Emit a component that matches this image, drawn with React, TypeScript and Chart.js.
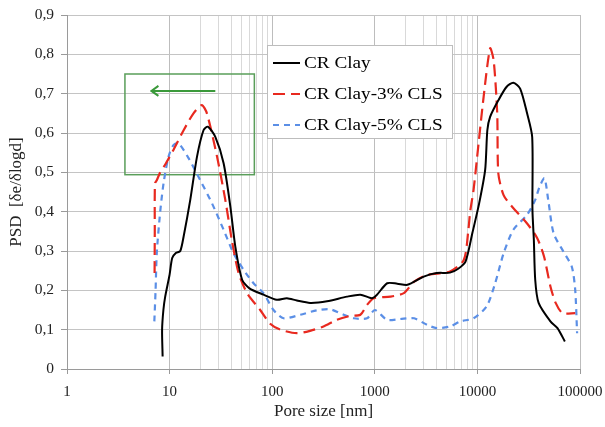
import React, { useEffect, useRef } from 'react';
import { Chart, registerables } from 'chart.js';

Chart.register(...registerables);

const FONT = "'Liberation Serif', 'Times New Roman', serif";

const seriesNames = ['CR Clay', 'CR Clay-3% CLS', 'CR Clay-5% CLS'];

const clayX = [8.55, 8.45, 8.7, 9.06, 10.0, 10.6, 11.5, 12.7, 13.7, 15.9, 18.5, 21.4, 23.6, 27.9, 33.6, 39.1, 43.7, 50.9, 60, 82.2, 111, 139, 174, 234, 342, 536, 724, 935, 1050, 1320, 1655, 2080, 3000, 4000, 5400, 6500, 7660, 8920, 10400, 11900, 12500, 13300, 16000, 19200, 22400, 26100, 30500, 34200, 34400, 35500, 36600, 39500, 51500, 60300, 71200];
const clayY = [0.032, 0.1, 0.15, 0.184, 0.24, 0.282, 0.295, 0.3, 0.337, 0.43, 0.54, 0.607, 0.616, 0.59, 0.523, 0.413, 0.311, 0.227, 0.205, 0.189, 0.176, 0.18, 0.174, 0.168, 0.172, 0.184, 0.189, 0.18, 0.189, 0.218, 0.217, 0.214, 0.235, 0.244, 0.245, 0.255, 0.273, 0.345, 0.421, 0.506, 0.607, 0.641, 0.683, 0.717, 0.728, 0.713, 0.65, 0.59, 0.404, 0.328, 0.227, 0.168, 0.121, 0.104, 0.07];

const cls3X = [7.14, 7.17, 7.2, 7.5, 8.1, 9.07, 10.9, 13.7, 17.1, 20.6, 23.1, 29, 34.9, 40.4, 47, 56.9, 76.4, 95.6, 120, 174, 234, 316, 425, 573, 724, 840, 977, 1420, 1920, 2420, 3250, 5400, 7370, 8170, 8500, 9170, 9950, 11500, 13300, 14400, 15600, 16000, 18000, 21700, 30500, 38200, 44600, 51500, 57900, 67500, 89800];
const cls3Y = [0.244, 0.35, 0.472, 0.48, 0.5, 0.52, 0.557, 0.607, 0.65, 0.671, 0.65, 0.54, 0.43, 0.328, 0.244, 0.193, 0.15, 0.115, 0.1, 0.091, 0.097, 0.108, 0.125, 0.135, 0.138, 0.163, 0.18, 0.184, 0.193, 0.222, 0.239, 0.248, 0.277, 0.354, 0.4, 0.455, 0.54, 0.692, 0.815, 0.785, 0.65, 0.497, 0.442, 0.413, 0.37, 0.333, 0.286, 0.21, 0.168, 0.142, 0.142];

const cls5X = [7.1, 7.3, 7.5, 8.1, 8.76, 9.77, 10.9, 12.2, 15.3, 19.9, 25.9, 33.6, 42, 52.7, 65.8, 82.2, 103, 129, 188, 271, 366, 497, 622, 840, 1000, 1320, 1750, 2420, 3250, 4000, 5400, 6830, 9170, 12300, 14900, 18000, 22400, 30500, 36600, 40300, 45000, 49000, 55300, 69100, 83200, 89800, 93700];
const cls5Y = [0.121, 0.2, 0.295, 0.4, 0.475, 0.54, 0.569, 0.574, 0.536, 0.48, 0.421, 0.354, 0.294, 0.252, 0.218, 0.193, 0.15, 0.129, 0.138, 0.149, 0.152, 0.138, 0.129, 0.129, 0.15, 0.125, 0.127, 0.129, 0.112, 0.104, 0.108, 0.121, 0.129, 0.159, 0.218, 0.294, 0.354, 0.392, 0.43, 0.463, 0.485, 0.43, 0.345, 0.298, 0.26, 0.201, 0.091];

const xMajorTicks = [1, 10, 100, 1000, 10000, 100000];
const xMinorTicks = [20, 30, 40, 50, 60, 70, 80, 90, 2000, 3000, 4000, 5000, 6000, 7000, 8000, 9000];
const yTicks = [0, 0.1, 0.2, 0.3, 0.4, 0.5, 0.6, 0.7, 0.8, 0.9];

const zoomBox = { xMin: 3.67, xMax: 67, yMin: 0.494, yMax: 0.75 };
const arrowLine = { xFrom: 27.9, xTo: 6.65, y: 0.707 };

const colors = ['#000000', '#e8291f', '#5b8fe6'];
const dashes = [[], [12, 6], [6, 5]];
const widths = [2, 2.2, 2.2];

const toPoints = (xs: number[], ys: number[]) => xs.map((x, i) => ({ x, y: ys[i] }));

const annotationPlugin = {
  id: 'zoomAnnotation',
  beforeDatasetsDraw(chart: any) {
    const { ctx, scales } = chart;
    const xs = scales.x, ys = scales.y;
    ctx.save();
    ctx.strokeStyle = '#5a9e5a';
    ctx.lineWidth = 1.5;
    const x1 = xs.getPixelForValue(zoomBox.xMin), x2 = xs.getPixelForValue(zoomBox.xMax);
    const y1 = ys.getPixelForValue(zoomBox.yMax), y2 = ys.getPixelForValue(zoomBox.yMin);
    ctx.strokeRect(x1, y1, x2 - x1, y2 - y1);
    const ax1 = xs.getPixelForValue(arrowLine.xFrom), ax2 = xs.getPixelForValue(arrowLine.xTo);
    const ay = ys.getPixelForValue(arrowLine.y);
    ctx.strokeStyle = '#3a993a';
    ctx.lineWidth = 2;
    ctx.beginPath();
    ctx.moveTo(ax1, ay);
    ctx.lineTo(ax2, ay);
    ctx.moveTo(ax2 + 7, ay - 5);
    ctx.lineTo(ax2, ay);
    ctx.lineTo(ax2 + 7, ay + 5);
    ctx.stroke();
    ctx.restore();
  },
};

const legendPlugin = {
  id: 'boxLegend',
  afterDraw(chart: any) {
    const { ctx, chartArea } = chart;
    const left = chartArea.left + 200;
    const top = chartArea.top + 30;
    const w = 185, h = 93;
    ctx.save();
    ctx.fillStyle = '#ffffff';
    ctx.fillRect(left, top, w, h);
    ctx.strokeStyle = '#bdbdbd';
    ctx.lineWidth = 1;
    ctx.strokeRect(left + 0.5, top + 0.5, w, h);
    ctx.textBaseline = 'middle';
    ctx.textAlign = 'left';
    seriesNames.forEach((name, i) => {
      const y = top + 18 + i * 31;
      ctx.strokeStyle = colors[i];
      ctx.lineWidth = widths[i];
      ctx.setLineDash(dashes[i]);
      ctx.beginPath();
      ctx.moveTo(left + 6, y);
      ctx.lineTo(left + 33, y);
      ctx.stroke();
      ctx.setLineDash([]);
      ctx.save();
      ctx.translate(left + 37, y + 1);
      ctx.scale(1.13, 1);
      ctx.font = `17px ${FONT}`;
      ctx.fillStyle = '#000000';
      ctx.fillText(name, 0, 0);
      ctx.restore();
    });
    ctx.restore();
  },
};

export default function App() {
  const canvasRef = useRef<HTMLCanvasElement | null>(null);

  useEffect(() => {
    if (!canvasRef.current) return;
    const datasets = [
      toPoints(clayX, clayY),
      toPoints(cls3X, cls3Y),
      toPoints(cls5X, cls5Y),
    ].map((data, i) => ({
      label: seriesNames[i],
      data,
      borderColor: colors[i],
      backgroundColor: colors[i],
      borderWidth: widths[i],
      borderDash: dashes[i],
      pointRadius: 0,
      tension: 0.25,
      fill: false,
    }));

    const allXTicks = [...xMajorTicks, ...xMinorTicks].sort((a, b) => a - b);

    const chart = new Chart(canvasRef.current, {
      type: 'line',
      data: { datasets },
      plugins: [annotationPlugin, legendPlugin],
      options: {
        animation: false,
        responsive: false,
        devicePixelRatio: 1,
        layout: { padding: { top: 15, right: 25, left: 0, bottom: 0 } },
        plugins: { legend: { display: false }, tooltip: { enabled: false } },
        scales: {
          x: {
            type: 'logarithmic',
            min: 1,
            max: 100000,
            afterFit: (scale: any) => {
              scale.height = 58;
              scale.paddingLeft = 0;
              scale.paddingRight = 0;
            },
            afterBuildTicks: (scale: any) => {
              scale.ticks = allXTicks.map((v) => ({ value: v, major: xMajorTicks.includes(v) }));
            },
            ticks: {
              autoSkip: false,
              maxRotation: 0,
              padding: 9,
              color: '#222',
              font: { family: FONT, size: 15 },
              callback: (v: any) => (xMajorTicks.includes(Number(v)) ? String(v) : ''),
            },
            grid: {
              color: (c: any) => (c.tick && xMajorTicks.includes(c.tick.value) ? '#bdbdbd' : '#d9d9d9'),
              tickColor: (c: any) => (c.tick && xMajorTicks.includes(c.tick.value) ? '#9a9a9a' : 'rgba(0,0,0,0)'),
              tickLength: 5,
            },
            border: { color: '#9a9a9a' },
            title: {
              display: true,
              text: 'Pore size [nm]',
              color: '#222',
              font: { family: FONT, size: 17 },
              padding: { top: 0, bottom: 5 },
            },
          },
          y: {
            type: 'linear',
            min: 0,
            max: 0.9,
            afterFit: (scale: any) => {
              scale.width = 67;
              scale.paddingTop = 0;
              scale.paddingBottom = 0;
            },
            afterBuildTicks: (scale: any) => {
              scale.ticks = yTicks.map((v) => ({ value: v }));
            },
            ticks: {
              padding: 7,
              color: '#222',
              font: { family: FONT, size: 15.5 },
              callback: (v: any) => (Number(v) === 0 ? '0' : Number(v).toFixed(1).replace('.', ',')),
            },
            grid: { color: '#c4c4c4', tickColor: '#9a9a9a', tickLength: 6 },
            border: { color: '#9a9a9a' },
            title: {
              display: true,
              text: 'PSD  [δe/δlogd]',
              color: '#222',
              font: { family: FONT, size: 17 },
              padding: { top: 6, bottom: 0 },
            },
          },
        },
      },
    } as any);
    return () => chart.destroy();
  }, []);

  return (
    <div style={{ position: 'fixed', left: 0, top: 0, width: 605, height: 427, background: '#fff' }}>
      <canvas ref={canvasRef} width={605} height={427} style={{ display: 'block' }} />
    </div>
  );
}
